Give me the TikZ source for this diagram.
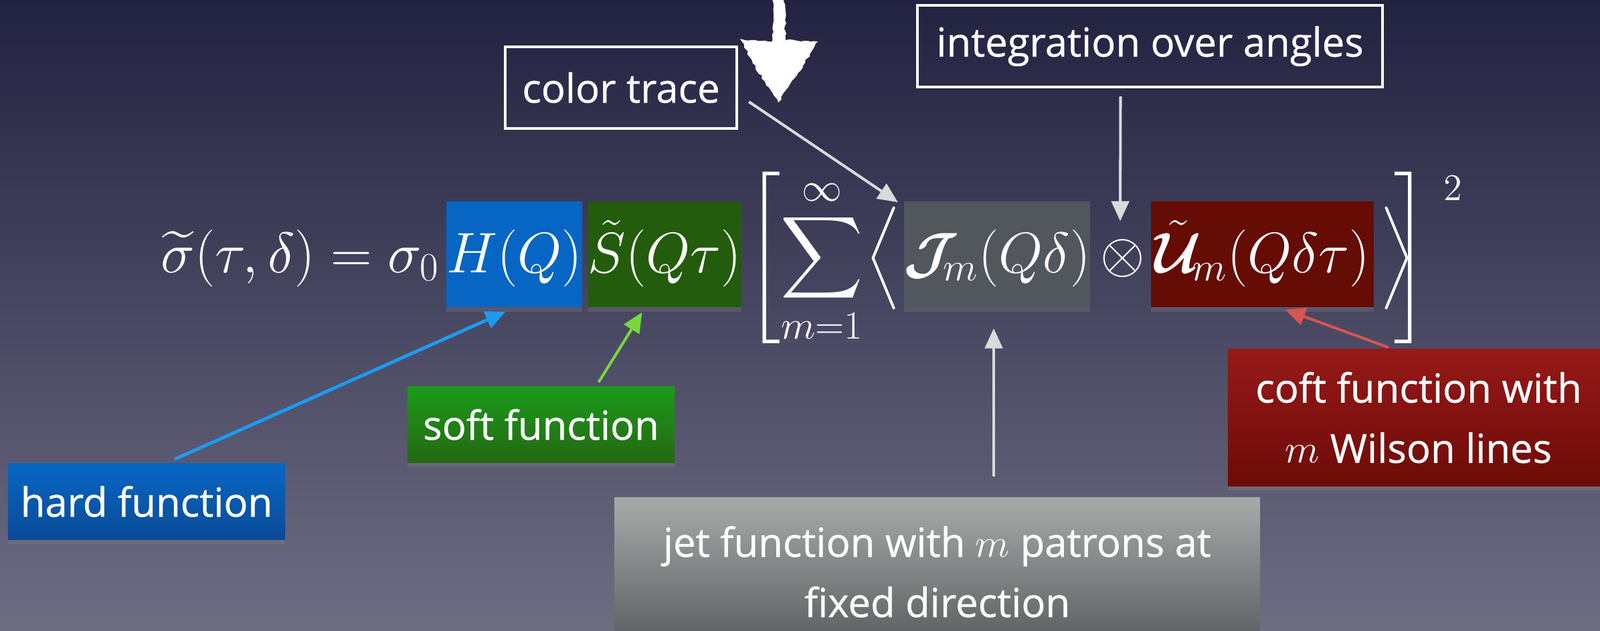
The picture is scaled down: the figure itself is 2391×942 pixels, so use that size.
\RequirePackage{fix-cm}
\documentclass[tikz,border=0pt]{standalone}
\usepackage[no-math]{fontspec}
\usepackage{amsmath}
\usepackage{amssymb}
\usepackage{xcolor}
\usetikzlibrary{arrows.meta,positioning,calc,shadows,decorations.pathmorphing}
\newfontfamily\chalkfont[FakeBold=0.6]{Open Sans}
\definecolor{cBgTop}{HTML}{222241}
\definecolor{cBgBot}{HTML}{6F6D82}
\definecolor{cH}{HTML}{0766C3}
\definecolor{cS}{HTML}{245C0D}
\definecolor{cJ}{HTML}{52565D}
\definecolor{cU}{HTML}{650C05}
\definecolor{cHardTop}{HTML}{0767C4}
\definecolor{cHardBot}{HTML}{0B4A97}
\definecolor{cSoftTop}{HTML}{1B9B1A}
\definecolor{cSoftBot}{HTML}{256814}
\definecolor{cJetTop}{HTML}{A7ABA8}
\definecolor{cJetBot}{HTML}{5B5C60}
\definecolor{cCoftTop}{HTML}{961919}
\definecolor{cCoftBot}{HTML}{6D0B07}
\definecolor{cBlue}{HTML}{1D9BF2}
\definecolor{cLime}{HTML}{78D93A}
\definecolor{cSalmon}{HTML}{D85550}
\definecolor{cPale}{HTML}{DADADA}
\tikzset{
  eq/.style={inner sep=0pt,text=white,font=\fontsize{24.3}{29}\selectfont},
  eqbox/.style={eq,anchor=base,text height=1.06cm,text depth=0.52cm,
                drop shadow={opacity=0.3,shadow xshift=0pt,shadow yshift=-2pt}},
  chalk/.style={inner sep=0pt,text=white,align=center,
                font=\chalkfont\fontsize{17}{25.6}\selectfont},
  outbox/.style={chalk,draw=white,line width=1.15pt,minimum height=1.22cm},
  tagbox/.style={chalk,drop shadow={opacity=0.35,shadow xshift=0pt,shadow yshift=-2pt}},
  pointer/.style={-{Triangle[length=8.5pt,width=7.5pt]},line width=1.15pt},
}

\begin{document}
\begin{tikzpicture}[x=0.01cm,y=-0.01cm]

\useasboundingbox (0,0) rectangle (2391,942);
\clip (0,0) rectangle (2391,942);
\shade[top color=cBgTop,bottom color=cBgBot] (0,0) rectangle (2391,942);

% ============ FORMULA ============
\node[eq,anchor=base west] (lhs) at (240,407) {$\widetilde{\sigma}(\tau,\delta)=\sigma_0$};
\node[eqbox,fill=cH,minimum width=1.99cm] (H) at (768.5,407) {$H(Q)$};
\node[eqbox,fill=cS,minimum width=2.25cm] (S) at (993.5,407) {$\tilde{S}(Q\tau)$};
\node[eq,anchor=base west] (sum) at (1116,407) {$\displaystyle\Biggl[\sum_{m=1}^{\infty}$};
\node[eq,anchor=base east] (lang) at (1346,407) {$\Bigl\langle$};
\node[eqbox,fill=cJ,minimum width=2.78cm] (J) at (1490,407) {$\boldsymbol{\mathcal{J}}\mkern-5mu_m(Q\delta)$};
\node[eq,anchor=base] (otimes) at (1678,407) {$\otimes$};
\node[eqbox,fill=cU,minimum width=3.33cm] (U) at (1886.5,407) {$\tilde{\boldsymbol{\mathcal{U}}}\mkern-3mu_m(Q\delta\tau)$};
\node[eq,anchor=base west] (rang) at (2062,407) {$\Bigr\rangle$};
\node[eq,anchor=base east] (rbrack) at (2134,407) {$\Biggr]$};
\node[eq,anchor=south west,font=\fontsize{16}{18}\selectfont] (pow) at (2157,300) {$2$};

% ============ LABELS ============
\node[outbox,minimum width=3.46cm] (trace) at (928,131) {color trace};
\node[outbox,minimum width=6.95cm] (integ) at (1718.5,69) {integration over angles};
\node[tagbox,top color=cHardTop,bottom color=cHardBot,minimum width=4.14cm,minimum height=1.13cm] (hard) at (219,749.5) {hard function};
\node[tagbox,top color=cSoftTop,bottom color=cSoftBot,minimum width=3.99cm,minimum height=1.13cm] (soft) at (808.5,634.5) {soft function};
\node[tagbox,top color=cJetTop,bottom color=cJetBot,minimum width=9.63cm,minimum height=2.21cm] (jet) at (1400.5,854.5)
   {jet function with $m$ patrons at\\ fixed direction};
\node[tagbox,top color=cCoftTop,bottom color=cCoftBot,minimum width=5.70cm,minimum height=2.04cm] (coft) at (2120,624)
   {coft function with\\ $m$ Wilson lines};

% chalk arrow
\fill[white,decorate,decoration={random steps,segment length=1.5pt,amplitude=0.5pt}]
  (1156,-5) -- (1154,62) -- (1106,58) -- (1125,95) -- (1163,153) -- (1200,98) -- (1222,62) -- (1174,60) -- (1172,-5) -- cycle;

% ---------- edges ----------
\draw[pointer,cPale] ($(trace.south east)+(16,-42)$) -- ($(J.north west)+(-8,2)$);
\draw[pointer,cPale] ($(integ.south)+(-44,12)$) -- ($(otimes.north)+(-4,-26)$);
\draw[pointer,cBlue,line width=1.4pt] ($(hard.north)+(42,-6)$) -- ($(H.south)+(-13,6)$);
\draw[pointer,cLime] ($(soft.north)+(86,-6)$) -- ($(S.south)+(-34,7)$);
\draw[pointer,cPale] ($(jet.north)+(84.5,-31)$) -- ($(J.south)+(-5,31)$);
\draw[pointer,cSalmon] ($(coft.north)+(-45,-2)$) -- ($(U.south)+(34,3)$);

\end{tikzpicture}
\end{document}
